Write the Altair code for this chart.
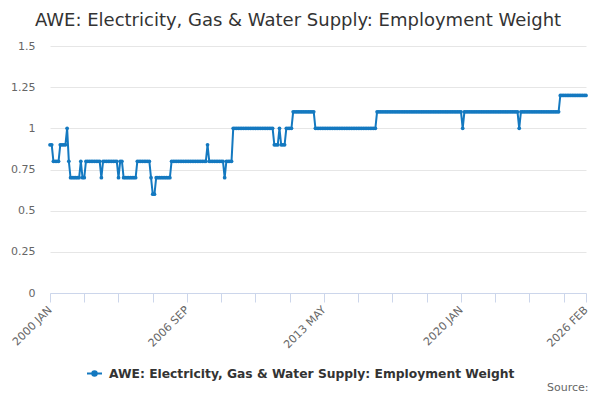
import altair as alt
import pandas as pd

# Runs of equal monthly values, 2000 JAN .. 2026 FEB
run_values = [0.9, 0.8, 0.9, 1.0, 0.8, 0.7, 0.8, 0.7, 0.8, 0.7, 0.8, 0.7, 0.8, 0.7,
              0.8, 0.7, 0.6, 0.7, 0.8, 0.9, 0.8, 0.7, 0.8, 1.0, 0.9, 1.0, 0.9, 1.0,
              1.1, 1.0, 1.1, 1.0, 1.1, 1.0, 1.1, 1.2]
run_months = [2, 4, 4, 1, 1, 6, 1, 2, 9, 1, 9, 1, 2, 8,
              8, 1, 2, 9, 21, 1, 9, 1, 4, 24, 3, 1, 3, 4,
              13, 36, 50, 1, 32, 1, 23, 16]

tick_positions = [0, 20, 40, 60, 80, 100, 120, 140, 160, 180, 200, 220, 240, 260, 280, 300, 313]
label_positions = [0, 80, 160, 240, 313]
tick_labels = ["2000 JAN", "2006 SEP", "2013 MAY", "2020 JAN", "2026 FEB"]
y_ticks = [0, 0.25, 0.5, 0.75, 1, 1.25, 1.5]

series_name = "AWE: Electricity, Gas & Water Supply: Employment Weight"
line_color = "#1479c0"

values = []
for v, n in zip(run_values, run_months):
    values.extend([v] * n)

df = pd.DataFrame({"idx": list(range(len(values))), "value": values, "series": series_name})

label_expr = "''"
for p, lab in reversed(list(zip(label_positions, tick_labels))):
    label_expr = f"datum.value == {p} ? '{lab}' : ({label_expr})"

chart = alt.Chart(df).mark_line(
    strokeWidth=2,
    point=alt.OverlayMarkDef(filled=True, size=14, color=line_color),
).encode(
    x=alt.X("idx:Q",
            scale=alt.Scale(domain=[0, len(values) - 1], nice=False, zero=False),
            axis=alt.Axis(values=tick_positions, labelExpr=label_expr, labelAngle=-45,
                          labelAlign="right", labelBaseline="middle", labelPadding=6,
                          labelOverlap=False, labelBound=False, labelFlush=False,
                          grid=False, tickSize=9, tickColor="#ccd6eb", domainColor="#ccd6eb",
                          labelColor="#666666", labelFontSize=11,
                          title="Source:", titleX=538, titleY=97, titleAlign="right",
                          titleBaseline="alphabetic", titleAnchor="end",
                          titleFontWeight="normal", titleFontSize=11, titleColor="#666666")),
    y=alt.Y("value:Q",
            scale=alt.Scale(domain=[0, 1.5], nice=False),
            axis=alt.Axis(values=y_ticks, labelExpr="'' + datum.value", title=None,
                          ticks=False, domain=False,
                          labelPadding=15, labelColor="#666666", labelFontSize=11,
                          gridColor="#e6e6e6")),
    color=alt.Color("series:N", scale=alt.Scale(range=[line_color]),
                    legend=alt.Legend(title=None, orient="none", legendX=36, legendY=319,
                                      symbolType="M-1,0L1,0M-0.3,0a0.3,0.3 0 1,0 0.6,0a0.3,0.3 0 1,0 -0.6,0",
                                      symbolSize=225, symbolStrokeWidth=2,
                                      symbolFillColor=line_color, symbolStrokeColor=line_color,
                                      labelFontSize=12.3, labelFontWeight="bold", labelLimit=600,
                                      labelColor="#333333", labelOffset=6)),
).properties(
    width=536, height=247,
    autosize=alt.AutoSizeParams(type="none"),
    padding={"left": 42, "top": 38, "right": 6, "bottom": 99},
    title=alt.TitleParams(series_name, fontSize=18, fontWeight="normal", color="#333333",
                          anchor="middle", dx=-20, offset=10),
).configure(
    font="DejaVu Sans",
).configure_view(stroke=None)

chart.save("out.html", embed_options={"renderer": "svg", "actions": False})
